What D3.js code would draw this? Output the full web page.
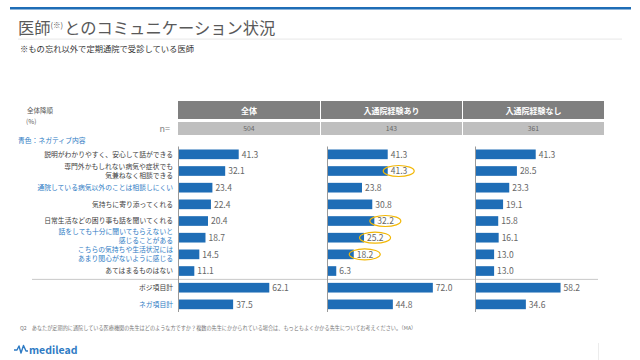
<!DOCTYPE html>
<html>
<head>
<meta charset="utf-8">
<script src="https://cdn.jsdelivr.net/npm/d3@7"></script>
<style>
  body { margin: 0; background: #fff; }
  text { font-family: "Noto Sans CJK JP", "Noto Sans", sans-serif; }
</style>
</head>
<body>
<div id="chart"></div>
<script>
// row labels (lines), and whether the item is a negative one (blue text)
const items = [
    ["説明がわかりやすく、安心して話ができる"],
    ["専門外かもしれない病気や症状でも", "気兼ねなく相談できる"],
    ["通院している病気以外のことは相談しにくい"],
    ["気持ちに寄り添ってくれる"],
    ["日常生活などの困り事も話を聞いてくれる"],
    ["話をしても十分に聞いてもらえないと", "感じることがある"],
    ["こちらの気持ちや生活状況には", "あまり関心がないように感じる"],
    ["あてはまるものはない"],
    ["ポジ項目計"],
    ["ネガ項目計"]
]
const negative = [false, false, true, false, false, true, true, false, false, true]

const groups = ["全体", "入通院経験あり", "入通院経験なし"]
const groupN = [504, 143, 361]

const valuesAll = [41.3, 32.1, 23.4, 22.4, 20.4, 18.7, 14.5, 11.1, 62.1, 37.5]
const valuesYes = [41.3, 41.3, 23.8, 30.8, 32.2, 25.2, 18.2, 6.3, 72.0, 44.8]
const valuesNo = [41.3, 28.5, 23.3, 19.1, 15.8, 16.1, 13.0, 13.0, 58.2, 34.6]
const seriesValues = [valuesAll, valuesYes, valuesNo]

// rows circled in the 入通院経験あり panel
const highlightYes = [1, 4, 5, 6]

const width = 640, height = 360
const blue = "#1e6db6", textBlue = "#2e7bc4", gray = "#595959"
const cjk = "Noto Sans CJK JP"

const svg = d3.select("#chart")
    .append("svg")
    .attr("width", width)
    .attr("height", height)

// top band + title
svg.append("rect").attr("x", 10).attr("y", 7).attr("width", 621).attr("height", 2.5).attr("fill", blue)
svg.append("rect").attr("x", 18).attr("y", 38.5).attr("width", 604).attr("height", 1.2).attr("fill", "#ececec")

const title = svg.append("text")
    .attr("x", 18).attr("y", 34)
    .attr("font-family", cjk)
    .attr("font-size", 16.3).attr("fill", gray)
title.append("tspan").text("医師")
title.append("tspan").attr("font-size", 7.5).attr("dy", -6.5).attr("fill", gray).text("(※)")
title.append("tspan").attr("dy", 6.5).attr("dx", 1).text("とのコミュニケーション状況")

svg.append("text").attr("x", 20).attr("y", 52)
    .attr("font-family", cjk)
    .attr("font-size", 8.3).attr("fill", "#333")
    .text("※もの忘れ以外で定期通院で受診している医師")

// left side notes
svg.append("text").attr("x", 27).attr("y", 113).attr("font-size", 6.5).attr("fill", gray).text("全体降順")
svg.append("text").attr("x", 26).attr("y", 124).attr("font-size", 6.5).attr("fill", gray).text("(%)")
svg.append("text").attr("x", 18).attr("y", 142.5).attr("font-size", 6.8).attr("fill", textBlue).text("青色：ネガティブ内容")
svg.append("text").attr("x", 170).attr("y", 131.5).attr("text-anchor", "end")
    .attr("font-size", 9).attr("fill", "#7f7f7f").text("n=")

// panels
const panelBox = [[178, 320], [321, 462], [463, 604]]
const panelAxis = [178, 327, 475]

const x = d3.scaleLinear().domain([0, 100]).range([0, 147])
const y = d3.scaleBand()
    .domain(d3.range(items.length))
    .range([146, 312.7])
    .paddingInner(0.42)
    .paddingOuter(0.21)

// header boxes
groups.forEach((g, i) => {
    const [x0, x1] = panelBox[i]
    svg.append("rect").attr("x", x0).attr("y", 101).attr("width", x1 - x0).attr("height", 18).attr("fill", "#7f7f7f")
    svg.append("rect").attr("x", x0).attr("y", 122).attr("width", x1 - x0).attr("height", 13).attr("fill", "#bfbfbf")
    svg.append("text").attr("x", (x0 + x1) / 2).attr("y", 113.5).attr("text-anchor", "middle")
        .attr("font-size", 8).attr("font-weight", "bold").attr("fill", "#fff").text(g)
    svg.append("text").attr("x", (x0 + x1) / 2).attr("y", 131).attr("text-anchor", "middle")
        .attr("font-size", 6.8).attr("fill", "#666").text(groupN[i])
})

// row labels
items.forEach((lines, i) => {
    const cy = y(i) + y.bandwidth() / 2 - (lines.length > 1 && i === 5 ? 1.5 : 0)
    const t = svg.append("text")
        .attr("x", 173)
        .attr("text-anchor", "end")
        .attr("font-size", 6.8)
        .attr("fill", negative[i] ? textBlue : "#404040")
    lines.forEach((l, k) => {
        t.append("tspan")
            .attr("x", 173)
            .attr("y", cy + 2.4 + (k - (lines.length - 1) / 2) * 8.6)
            .text(l)
    })
})

// separator between items and totals
const sepY = (y(7) + y(8) + y.bandwidth()) / 2
svg.append("line").attr("x1", 32).attr("x2", 598).attr("y1", sepY).attr("y2", sepY)
    .attr("stroke", "#c8c8c8").attr("stroke-width", 1)

// bars per panel
seriesValues.forEach((vals, p) => {
    const g = svg.append("g").attr("transform", "translate(" + panelAxis[p] + ",0)")

    g.selectAll("rect")
        .data(vals)
        .enter()
        .append("rect")
        .attr("x", 0)
        .attr("y", (d, i) => y(i))
        .attr("width", d => x(d))
        .attr("height", y.bandwidth())
        .attr("fill", blue)

    g.selectAll("text.val")
        .data(vals)
        .enter()
        .append("text")
        .attr("class", "val")
        .attr("x", d => x(d) + 3)
        .attr("y", (d, i) => y(i) + y.bandwidth() / 2 + 3.2)
        .attr("font-size", 8.5)
        .attr("fill", "#666")
        .text(d => d.toFixed(1))

    g.append("line")
        .attr("x1", 0.5).attr("x2", 0.5)
        .attr("y1", 146.5).attr("y2", 312)
        .attr("stroke", "#9a9a9a").attr("stroke-width", 1)

    if (p === 1) {
        g.selectAll("ellipse")
            .data(highlightYes)
            .enter()
            .append("ellipse")
            .attr("cx", i => x(vals[i]) + 11)
            .attr("cy", i => y(i) + y.bandwidth() / 2)
            .attr("rx", 15.5)
            .attr("ry", 5.5)
            .attr("fill", "none")
            .attr("stroke", "#f2b705")
            .attr("stroke-width", 1.2)
    }
})

// footnote
svg.append("text").attr("x", 20).attr("y", 329.5)
    .attr("font-size", 5.15).attr("fill", "#777")
    .text("Q2　あなたが定期的に通院している医療機関の先生はどのような方ですか？複数の先生にかかられている場合は、もっともよくかかる先生についてお考えください。（MA）")

// logo
svg.append("path")
    .attr("d", "M14,350 L17,350 L19,346 L21,353 L23.5,345.5 L26,351 L28,351")
    .attr("fill", "none").attr("stroke", textBlue).attr("stroke-width", 1.4)
    .attr("stroke-linejoin", "round")
svg.append("text").attr("x", 29).attr("y", 353.5)
    .attr("font-size", 10.5).attr("font-weight", "bold").attr("fill", textBlue)
    .attr("font-family", "Noto Sans, sans-serif")
    .text("medilead")

svg.append("line").attr("x1", 598.5).attr("x2", 598.5).attr("y1", 343).attr("y2", 360)
    .attr("stroke", "#ececec")
</script>
</body>
</html>
